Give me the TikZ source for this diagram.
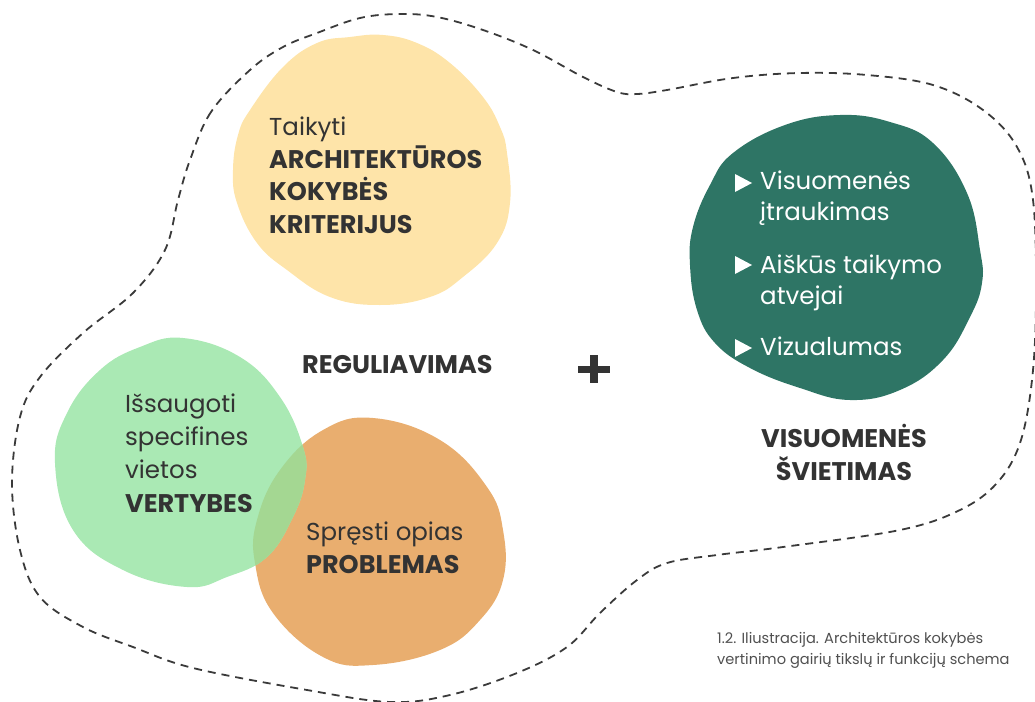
\documentclass[tikz,border=0pt]{standalone}
\usepackage{fontspec}
\setmainfont{Poppins}
\definecolor{txt}{HTML}{333333}
\definecolor{yel}{HTML}{FEE4A9}
\definecolor{grn}{HTML}{AAE9B4}
\definecolor{org}{HTML}{E9AE6F}
\definecolor{ovl}{HTML}{A4D792}
\definecolor{teal}{HTML}{2E7565}
\definecolor{dash}{HTML}{3A3A3A}
\definecolor{cap}{HTML}{505050}
\begin{document}
\begin{tikzpicture}[x=1pt,y=-1pt,
  lbl/.style={anchor=base west,inner sep=0pt,text=txt,font=\fontsize{24.5}{30}\selectfont},
  blbl/.style={lbl,font=\fontsize{25.5}{30}\selectfont\bfseries},
  wlbl/.style={lbl,text=white},
  ctr/.style={anchor=base,inner sep=0pt,text=txt,font=\fontsize{25.5}{30}\selectfont\bfseries},
  caplbl/.style={anchor=base west,inner sep=0pt,text=cap,font=\fontsize{14.6}{17}\selectfont},
  bullet/.style={fill=white,draw=none},
  outline/.style={draw=dash,line width=1.8pt,dash pattern=on 8pt off 6pt}]
\useasboundingbox (0,0) rectangle (1035,701);
% outer dashed region
\draw[outline] plot[smooth cycle,tension=0.6] coordinates {
 (250,70) (211,112) (190,160) (178,200) (165,250) (133,293) (83,333) (40,377) (20,417)
 (12,483) (20,550) (40,597) (83,627) (133,647) (193,668) (307,690) (390,702)
 (450,695) (517,673) (567,647) (600,613) (637,580) (667,563) (717,555) (783,547)
 (900,530) (960,510) (997,483) (1020,443) (1032,380) (1036,300) (1033,200)
 (1017,147) (983,110) (933,85) (867,75) (800,73) (733,78) (667,90) (637,94)
 (617,92) (583,77) (533,50) (483,30) (437,17) (400,14) (360,18) (317,33) (283,47)};
% yellow blob
\fill[yel] plot[smooth cycle,tension=0.7] coordinates {
 (250,110) (283,67) (317,43) (350,37) (383,35) (417,43) (450,63) (483,97) (500,127)
 (507,153) (510,203) (497,243) (463,277) (430,297) (380,305) (330,297) (287,270)
 (257,243) (237,203) (233,170) (238,135)};
% teal blob
\fill[teal] plot[smooth cycle,tension=0.7] coordinates {
 (840,115) (890,122) (933,143) (967,193) (980,250) (982,283) (970,317) (943,360)
 (900,390) (850,400) (800,388) (750,368) (715,343) (697,310) (690,265) (693,227)
 (710,185) (733,153) (785,125)};
% orange blob
\fill[org] plot[smooth cycle,tension=0.7] coordinates {
 (373,418) (440,440) (487,487) (503,530) (503,580) (480,620) (440,650) (373,665)
 (323,657) (273,613) (255,563) (257,520) (280,470) (323,430)};
% green blob
\fill[grn] plot[smooth cycle,tension=0.7] coordinates {
 (183,338) (240,357) (280,397) (303,447) (305,480) (293,517) (267,557) (227,577)
 (187,587) (123,570) (73,530) (55,463) (67,413) (100,370) (140,347)};
% overlap
\begin{scope}
\clip plot[smooth cycle,tension=0.7] coordinates {
 (373,418) (440,440) (487,487) (503,530) (503,580) (480,620) (440,650) (373,665)
 (323,657) (273,613) (255,563) (257,520) (280,470) (323,430)};
\fill[ovl] plot[smooth cycle,tension=0.7] coordinates {
 (183,338) (240,357) (280,397) (303,447) (305,480) (293,517) (267,557) (227,577)
 (187,587) (123,570) (73,530) (55,463) (67,413) (100,370) (140,347)};
\end{scope}
% yellow text
\node[lbl]  (y1) at (269,135) {Taikyti};
\node[blbl] (y2) at (269,168) {ARCHITEKTŪROS};
\node[blbl] (y3) at (269,200) {KOKYBĖS};
\node[blbl] (y4) at (269,233) {KRITERIJUS};
% green text
\node[lbl]  (g1) at (125,412) {Išsaugoti};
\node[lbl]  (g2) at (125,445) {specifines};
\node[lbl]  (g3) at (125,478) {vietos};
\node[blbl] (g4) at (125,512) {VERTYBES};
% orange text
\node[lbl]  (o1) at (306,540) {Spręsti opias};
\node[blbl] (o2) at (306,573) {PROBLEMAS};
% regulation
\node[blbl] (reg) at (302,373) {REGULIAVIMAS};
% plus
\draw[txt,line width=7.5pt] (594,355) -- (594,383) (578,369.5) -- (610,369.5);
% teal list
\fill[bullet] (735,174) -- (752,183) -- (735,192) -- cycle;
\fill[bullet] (735,256) -- (752,265) -- (735,274) -- cycle;
\fill[bullet] (735,339) -- (752,348) -- (735,357) -- cycle;
\node[wlbl] (t1) at (760,189) {Visuomenės};
\node[wlbl] (t2) at (760,220) {įtraukimas};
\node[wlbl] (t3) at (760,273) {Aiškūs taikymo};
\node[wlbl] (t4) at (760,304) {atvejai};
\node[wlbl] (t5) at (760,355) {Vizualumas};
% education
\node[ctr] (e1) at (844,447) {VISUOMENĖS};
\node[ctr] (e2) at (844,480) {ŠVIETIMAS};
% caption
\node[caplbl] (c1) at (717,643) {1.2. Iliustracija. Architektūros kokybės};
\node[caplbl] (c2) at (717,664) {vertinimo gairių tikslų ir funkcijų schema};
\end{tikzpicture}
\end{document}
